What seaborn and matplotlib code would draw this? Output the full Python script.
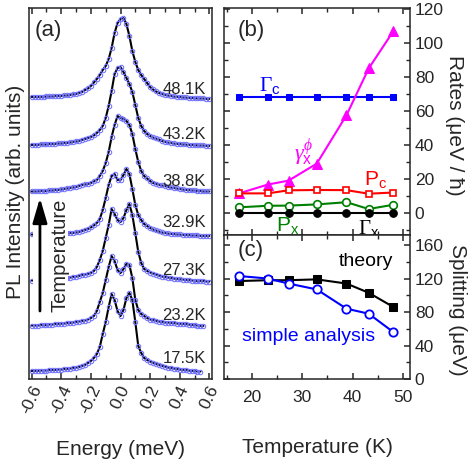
import numpy as np
import pandas as pd
import matplotlib
matplotlib.use("Agg")
import matplotlib.pyplot as plt
import seaborn as sns
from matplotlib.patches import Rectangle
from matplotlib.ticker import MultipleLocator

# ---------------- data ----------------
energy = [-0.60, -0.58, -0.56, -0.54, -0.52, -0.50, -0.48, -0.46, -0.44, -0.42,
          -0.40, -0.38, -0.36, -0.34, -0.32, -0.30, -0.28, -0.26, -0.24, -0.22,
          -0.20, -0.18, -0.16, -0.14, -0.12, -0.10, -0.08, -0.06, -0.04, -0.02,
          0.00, 0.02, 0.04, 0.06, 0.08, 0.10, 0.12, 0.14, 0.16, 0.18,
          0.20, 0.22, 0.24, 0.26, 0.28, 0.30, 0.32, 0.34, 0.36, 0.38,
          0.40, 0.42, 0.44, 0.46, 0.48, 0.50, 0.52, 0.54, 0.56, 0.58, 0.60]
nan = np.nan
pl_48_1K = [2, 2, 2, 2, 2, 2.5, 2.5, 2.5, 3, 3,
            3, 3.5, 3.5, 4, 4.5, 5, 6, 7, 9, 10.5,
            13, 16.5, 20, 24, 29, 33, 40, 51, 66, 76,
            80, 81, 75, 63, 48, 37, 29, 24, 20, 16,
            12, 9.5, 7.5, 6, 5, 4, 3.5, 3, 2.5, 2,
            2, 1.5, 1.5, 1, 1, 1, 0.5, 0.5, 0.5, 0, 0]
pl_43_2K = [1, 1, 1, 1.5, 1.5, 1.5, 2, 2, 2, 2.5,
            2.5, 3, 3, 3.5, 4, 4.5, 5, 6, 7, 8,
            9, 10.5, 13, 16, 20, 28, 40, 55, 72, 78,
            79, 74, 68, 62, 54, 41, 28, 20, 15, 12,
            10, 8.5, 7.5, 6.5, 5, 4, 3.5, 3, 2.5, 2,
            2, 1.5, 1.5, 1, 1, 1, 0.5, 0.5, 0.5, 0, 0]
pl_38_8K = [0.5, 0.5, 0.5, 1, 1, 1, 1.5, 1.5, 2, 2,
            2.5, 3, 3.5, 4, 4.5, 5, 6, 7, 7.5, 8,
            9, 10.5, 12, 16, 21, 29, 40, 55, 67, 76,
            74, 73, 71, 67, 58, 43, 30, 21, 16, 13.5,
            11, 9, 8, 7, 6.5, 6, 5, 4.5, 4, 3.5,
            3, 2.5, 2, 2, 1.5, 1.5, 1, 1, 0.5, 0.5, 0.5]
pl_32_9K = [1.5, 1.5, 1.5, 1.5, 1.5, 2, 2, 2, 2, 2,
            2.5, 2.5, 2.5, 3, 3, 3.5, 4, 5, 6, 7,
            8.5, 10.5, 13, 17, 26, 38, 51, 60, 62, 56,
            56, 61, 67, 62, 47, 31, 21, 16, 12, 10,
            8, 6.5, 5.5, 4.5, 3.5, 3, 2.5, 2, 2, 1.5,
            1.5, 1, 1, 1, 0.5, 0.5, 0.5, 0, 0, 0, 0]
pl_27_3K = [1.5, 1.5, 2, 2, 2, 2.5, 2.5, 3, 3, 3.5,
            3.5, 4, 4, 4.5, 5, 5.5, 6, 7, 7.5, 8,
            9, 11, 15, 22, 31, 44, 57, 73, 68, 62,
            60, 64, 72, 78, 67, 49, 30, 19, 13, 11,
            9.5, 8.5, 7.5, 6.5, 5.5, 5, 4.5, 4, 3.5, 3,
            2.7, 2.5, 2, 2, 1.5, 1.5, 1, 1, 1, 0.5, 0.5]
pl_23_2K = [1.5, 1.5, 1.5, 2, 2, 2, 2.5, 2.5, 3, 3,
            3.3, 3.5, 4, 4, 4.5, 5, 5.5, 6, 6.5, 7.5,
            9, 11, 16, 25, 34, 47, 60, 71, 66, 57,
            54, 58, 63, 62, 49, 27, 17, 13, 11, 9,
            7.5, 7, 6, 5.5, 5, 4.5, 4.5, 4, 4, 3.5,
            3.3, 3, 3, 2.5, 2, 2, 1.5, 1, 1, nan, nan]
pl_17_5K = [1, 1, 1, 1.5, 1.5, 1.5, 2, 2, 2, 2.5,
            2.5, 3, 3, 3.5, 4, 4.5, 5, 6, 7, 9,
            11, 14, 18, 25, 38, 50, 65, 78, 72, 61,
            56, 62, 74, 79, 72, 50, 26, 19, 14, 12,
            10.5, 9, 8, 7, 6, 5.5, 4.5, 4, 3.5, 3,
            2.5, 2, 2, 1.5, 1, 1, 0.5, 0.5, nan, nan, nan]
spectra = [pl_48_1K, pl_43_2K, pl_38_8K, pl_32_9K, pl_27_3K, pl_23_2K, pl_17_5K]
spectra_labels = ["48.1K", "43.2K", "38.8K", "32.9K", "27.3K", "23.2K", "17.5K"]

temperature = [17.5, 23.2, 27.3, 32.9, 38.8, 43.2, 48.1]
gamma_c = [68, 68, 68, 68, 68, 68, 68]
gamma_x_phi = [11.5, 16.7, 19.0, 29.0, 57.5, 85.0, 107.0]
p_c = [11.5, 11.5, 13.3, 13.5, 13.4, 11.3, 12.0]
p_x = [3.3, 4.2, 4.3, 5.0, 6.3, 2.3, 4.8]
gamma_x = [0, 0, 0, 0, 0, 0, 0]
split_theory = [117, 118, 118, 119, 114, 103, 86]
split_simple = [123, 120, 114, 107, 84, 78, 56]

# ---------------- layout / style ----------------
offsets = [280, 233, 187, 143, 97, 52, 7]
label_y = [285.5, 240, 193, 152, 104, 59.5, 16.5]

sns.set_theme(style="ticks")
plt.rcParams["font.family"] = ["Liberation Sans", "DejaVu Sans"]
plt.rcParams["mathtext.fontset"] = "custom"
plt.rcParams["mathtext.rm"] = "Liberation Serif"
plt.rcParams["mathtext.it"] = "Liberation Serif:italic"
plt.rcParams["mathtext.sf"] = "Liberation Sans"
plt.rcParams["axes.unicode_minus"] = False
plt.rcParams["axes.linewidth"] = 1.1
plt.rcParams["xtick.major.width"] = 1.1
plt.rcParams["ytick.major.width"] = 1.1
plt.rcParams["xtick.minor.width"] = 1.0
plt.rcParams["ytick.minor.width"] = 1.0

W, H = 471, 461
fig = plt.figure(figsize=(W / 100, H / 100), dpi=100)

def frac(x0, y0, x1, y1):
    return [x0 / W, 1 - y1 / H, (x1 - x0) / W, (y1 - y0) / H]

axA = fig.add_axes(frac(29, 8, 212, 379))
axB = fig.add_axes(frac(224, 8, 410, 235))
axC = fig.add_axes(frac(224, 235, 410, 379))

# ---------------- panel (a) ----------------
circ_col = "#7373ff"
for vals, off, lab, ly in zip(spectra, offsets, spectra_labels, label_y):
    df = pd.DataFrame({"E": energy, "I": np.array(vals, float) + off})
    sns.lineplot(data=df, x="E", y="I", ax=axA, color="black", lw=1.5,
                 estimator=None, sort=False, zorder=2)
    sns.lineplot(data=df, x="E", y="I", ax=axA, color=circ_col, ls="",
                 marker="o", ms=3.2, mfc="none", mec=circ_col, mew=0.75,
                 estimator=None, sort=False, zorder=2.5)
    axA.text(0.575, ly, lab, ha="right", va="baseline", fontsize=12)

axA.add_patch(Rectangle((-0.588, 60), 0.236, 122, facecolor="white",
                        edgecolor="none", zorder=3))
axA.annotate("", xy=(-0.544, 181), xytext=(-0.544, 68),
             arrowprops=dict(arrowstyle="-|>,head_length=0.75,head_width=0.22",
                             lw=2.0, color="black", shrinkA=0, shrinkB=0,
                             mutation_scale=20), zorder=4)
axA.text(-0.412, 124, "Temperature", rotation=90, ha="center", va="center",
         fontsize=14.5, zorder=4)

axA.set_xlim(-0.618, 0.618)
axA.set_ylim(0, 371)
axA.set_yticks([])
axA.xaxis.set_major_locator(MultipleLocator(0.2))
axA.xaxis.set_minor_locator(MultipleLocator(0.1))
axA.xaxis.set_major_formatter(matplotlib.ticker.FormatStrFormatter("%.1f"))
axA.tick_params(axis="x", which="both", direction="in", top=True, bottom=True,
                labelsize=12.5, labelrotation=65, pad=3)
axA.tick_params(axis="x", which="major", length=4.5)
axA.tick_params(axis="x", which="minor", length=3)
axA.text(0.03, 0.968, "(a)", transform=axA.transAxes, fontsize=16,
         ha="left", va="top")
axA.set_xlabel("Energy (meV)", fontsize=15)
axA.xaxis.set_label_coords(0.5, -0.164)
axA.set_ylabel("PL Intensity (arb. units)", fontsize=15)
axA.yaxis.label.set_va("center")
axA.yaxis.set_label_coords(-0.0765, 0.504)

# ---------------- panel (b) ----------------
blue, mag, red, green = "#0000ff", "#ff00ff", "#ff0000", "#008000"
sns.lineplot(x=temperature, y=gamma_c, ax=axB, color=blue, lw=1.5, marker="s",
             ms=5, mec=blue, mfc=blue)
sns.lineplot(x=temperature, y=gamma_x_phi, ax=axB, color=mag, lw=1.5,
             marker="^", ms=7.5, mec=mag, mfc=mag)
sns.lineplot(x=temperature, y=p_c, ax=axB, color=red, lw=1.5, marker="s",
             ms=5, mec=red, mfc="white", mew=1.2)
sns.lineplot(x=temperature, y=p_x, ax=axB, color=green, lw=1.5, marker="o",
             ms=5.5, mec=green, mfc="white", mew=1.2)
sns.lineplot(x=temperature, y=gamma_x, ax=axB, color="black", lw=1.5,
             marker="o", ms=5.5, mec="black", mfc="black")

axB.text(21.5, 72, r"$\Gamma_{\mathsf{c}}$", color=blue, fontsize=15.5,
         ha="left", va="baseline")
axB.text(30.3, 35.4, r"$\gamma_{\mathsf{x}}^{\phi}$", color=mag, fontsize=16,
         ha="center", va="center")
axB.text(44.6, 19.5, r"P$_{\mathsf{c}}$", color=red, fontsize=15,
         ha="center", va="center")
axB.text(27.1, -7.7, r"P$_{\mathsf{x}}$", color=green, fontsize=15,
         ha="center", va="center")
axB.text(43.2, -8.9, r"$\Gamma_{\mathsf{x}}$", color="black", fontsize=15,
         ha="center", va="center")
axB.text(0.075, 0.947, "(b)", transform=axB.transAxes, fontsize=16,
         ha="left", va="top")

for ax in (axB, axC):
    ax.set_xlim(14.5, 51.4)
    ax.xaxis.set_major_locator(MultipleLocator(10))
    ax.xaxis.set_minor_locator(MultipleLocator(5))
    ax.tick_params(which="both", direction="in", top=True, bottom=True,
                   left=True, right=True, labelleft=False, labelright=True,
                   labelsize=12.5)
    ax.tick_params(which="major", length=4.5)
    ax.tick_params(which="minor", length=3)
    ax.yaxis.set_label_position("right")

axB.set_ylim(-13, 120.6)
axB.yaxis.set_major_locator(MultipleLocator(20))
axB.yaxis.set_minor_locator(MultipleLocator(10))
axB.tick_params(labelbottom=False)
axB.set_xlabel("")
axB.set_ylabel("Rates (μeV / ħ)", fontsize=15, rotation=270)
axB.yaxis.label.set_va("center")
axB.yaxis.label.set_ha("center")
axB.yaxis.set_label_coords(1.237, 0.485)

# ---------------- panel (c) ----------------
sns.lineplot(x=temperature, y=split_theory, ax=axC, color="black", lw=1.5,
             marker="s", ms=5.5, mec="black", mfc="black")
sns.lineplot(x=temperature, y=split_simple, ax=axC, color=blue, lw=1.5,
             marker="o", ms=6, mec=blue, mfc="white", mew=1.3)
axC.text(42.6, 140, "theory", color="black", fontsize=14, ha="center",
         va="center")
axC.text(31.2, 50.7, "simple analysis", color=blue, fontsize=14,
         ha="center", va="center")
axC.text(0.075, 0.965, "(c)", transform=axC.transAxes, fontsize=16,
         ha="left", va="top")
axC.set_ylim(0, 172)
axC.yaxis.set_major_locator(MultipleLocator(40))
axC.yaxis.set_minor_locator(MultipleLocator(20))
axC.tick_params(axis="x", pad=8)
axC.set_xlabel("Temperature (K)", fontsize=15)
axC.xaxis.set_label_coords(0.5, -0.412)
axC.set_ylabel("Splitting (μeV)", fontsize=15, rotation=270)
axC.yaxis.label.set_va("center")
axC.yaxis.label.set_ha("center")
axC.yaxis.set_label_coords(1.253, 0.48)

fig.savefig("out.png", dpi=100)
